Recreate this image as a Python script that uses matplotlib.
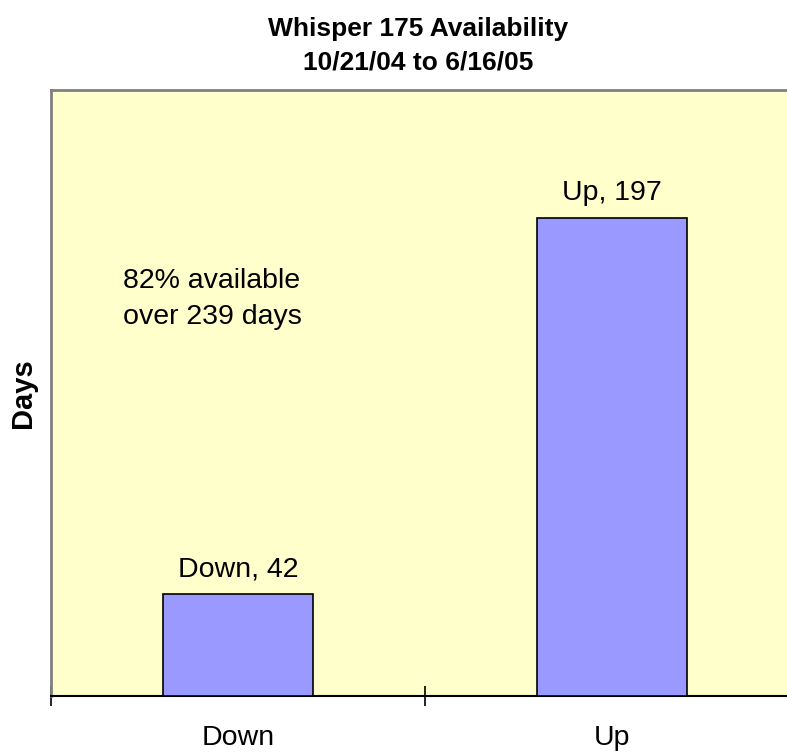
import matplotlib
matplotlib.use("Agg")
import matplotlib.pyplot as plt
from matplotlib.ticker import FixedLocator

categories = ["Down", "Up"]
days = [42, 197]
bar_labels = ["Down, 42", "Up, 197"]
title = "Whisper 175 Availability\n10/21/04 to 6/16/05"
note = "82% available\nover 239 days"

plt.rcParams['font.family'] = ['Liberation Sans', 'DejaVu Sans']

W, H = 787, 754
fig = plt.figure(figsize=(W / 100, H / 100), dpi=100)
ax = fig.add_axes([51 / W, 1 - 696 / H, 748 / W, 606 / H])
ax.set_facecolor("#FFFFCC")

x = list(range(len(categories)))
ax.bar(x, days, width=0.40, color="#9999FF", edgecolor="black", linewidth=1.2, zorder=3)
ax.set_xlim(-0.5, len(categories) - 0.5)
ax.set_ylim(0, 250)

for xi, v, lab in zip(x, days, bar_labels):
    ax.annotate(lab, (xi, v), xytext=(0, 13), textcoords="offset points",
                ha="center", va="baseline", fontsize=20.5)

ax.text(-0.307, 153.5, note, ha="left", va="baseline", fontsize=20.5, linespacing=1.5)

ax.set_xticks(x)
ax.set_xticklabels(categories, fontsize=20.5)
ax.tick_params(axis="x", which="major", length=0, pad=21)
ax.xaxis.set_minor_locator(FixedLocator([-0.5, 0.5, 1.5]))
ax.tick_params(axis="x", which="minor", direction="inout", length=14, width=1.2, color="black")
ax.set_yticks([])

for s in ["left", "top"]:
    ax.spines[s].set_color("#808080")
    ax.spines[s].set_linewidth(2)
ax.spines["right"].set_visible(False)
ax.spines["bottom"].set_color("black")
ax.spines["bottom"].set_linewidth(1.5)

ax.set_ylabel("Days", fontsize=21, fontweight="bold", labelpad=10)
fig.text(418 / W, 1 - 45.5 / H, title, ha="center", va="center", fontsize=19,
         fontweight="bold", linespacing=1.52)

fig.savefig("out.png", dpi=100, facecolor="white")
